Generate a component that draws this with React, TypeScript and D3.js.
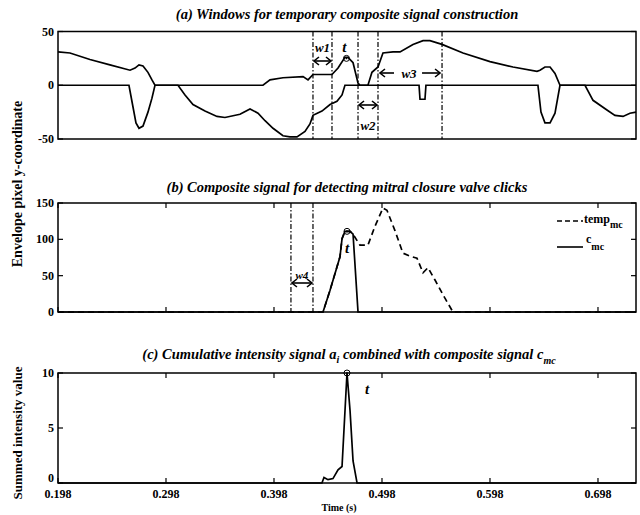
import React, { useRef, useEffect } from "react";
import * as d3 from "d3";

// time axis (s)
const xTicks = [0.198, 0.298, 0.398, 0.498, 0.598, 0.698];
const xDomain = [0.198, 0.7332];

// (a) envelope of the signal, upper and lower parts [time, pixel y]
const upperEnv: [number, number][] = [
  [0.198, 31], [0.2091, 30], [0.2276, 24], [0.2461, 19], [0.2647, 14], [0.2693, 16],
  [0.273, 19], [0.2767, 18], [0.2813, 12], [0.285, 5], [0.2878, 0], [0.3878, 0],
  [0.3943, 5], [0.4063, 7], [0.4249, 8], [0.4295, 5], [0.4341, 10], [0.4517, 10],
  [0.4573, 16], [0.4637, 26], [0.4665, 26], [0.4712, 21], [0.4758, 2], [0.4776, 0],
  [0.485, 0], [0.4887, 12], [0.4943, 17], [0.4989, 30], [0.5082, 31], [0.5147, 31],
  [0.5267, 38], [0.536, 41.5], [0.5424, 41.5], [0.5536, 38], [0.573, 30], [0.598, 22],
  [0.6193, 17], [0.6415, 13], [0.6443, 14], [0.6489, 17], [0.6536, 17], [0.6582, 11],
  [0.6628, 0], [0.7332, 0],
];
const lowerEnv: [number, number][] = [
  [0.198, 0], [0.2637, 0], [0.2674, -20], [0.2702, -35], [0.273, -40], [0.2767, -38],
  [0.2813, -25], [0.285, -12], [0.2878, 0], [0.3091, 0], [0.3156, -9], [0.323, -18],
  [0.3341, -24], [0.3452, -29], [0.3526, -30], [0.3665, -27], [0.3758, -22], [0.3832, -26],
  [0.3897, -33], [0.3971, -40], [0.4063, -47], [0.4128, -48], [0.4193, -48], [0.4267, -43],
  [0.4313, -36], [0.4341, -28], [0.4424, -24], [0.4499, -18], [0.4563, -15], [0.461, -9],
  [0.4637, 0], [0.5323, 0], [0.5332, -13], [0.5378, -13], [0.5387, 0], [0.6424, 0],
  [0.6452, -25], [0.6489, -35], [0.6536, -35], [0.6582, -26], [0.6628, 0], [0.686, 0],
  [0.6934, -14], [0.7063, -23], [0.7137, -28], [0.7212, -29], [0.7276, -26], [0.7332, -25],
];
// window boundaries w1, w2, w3
const w1 = [0.4341, 0.4517];
const w2 = [0.4758, 0.4943];
const w3 = [0.4943, 0.5536];
const w4 = [0.4137, 0.4341];

// (b) composite signals
const cmc: [number, number][] = [
  [0.198, 0], [0.4434, 0], [0.4499, 30], [0.4563, 62], [0.4591, 76], [0.461, 101],
  [0.4637, 111], [0.4684, 111], [0.4712, 107], [0.4758, 0], [0.7332, 0],
];
const tempMc: [number, number][] = [
  [0.198, 0], [0.4434, 0], [0.4499, 30], [0.4563, 62], [0.4591, 76], [0.461, 101],
  [0.4637, 111], [0.4684, 111], [0.4712, 107], [0.4776, 92], [0.485, 92], [0.4915, 118],
  [0.4989, 143], [0.5026, 140], [0.51, 112], [0.5174, 81], [0.5239, 77], [0.5304, 74],
  [0.536, 54], [0.5406, 61], [0.5471, 44], [0.5563, 19], [0.5637, 0], [0.7332, 0],
];

// (c) summed intensity
const intensity: [number, number][] = [
  [0.198, 0], [0.4424, 0], [0.4443, 0.5], [0.448, 0.3], [0.4526, 0.4], [0.4573, 1.2],
  [0.461, 1.5], [0.4656, 10], [0.4684, 6.6], [0.4712, 2], [0.4749, 0], [0.7332, 0],
];
const tPeak = { a: [0.4651, 25], b: [0.4656, 111], c: [0.4656, 10] };

const FONT = "'Liberation Serif', 'Times New Roman', serif";

const App = () => {
  const svgRef = useRef<SVGSVGElement>(null);

  useEffect(() => {
    const svg = d3.select(svgRef.current);
    svg.selectAll("*").remove();

    const x = d3.scaleLinear().domain(xDomain).range([58, 636]);
    const yA = d3.scaleLinear().domain([-50, 50]).range([139, 31.5]);
    const yB = d3.scaleLinear().domain([0, 150]).range([312, 203]);
    const yC = d3.scaleLinear().domain([0, 10]).range([483, 373]);

    const frame = (y: d3.ScaleLinear<number, number>, yTicks: number[], showX: boolean, xLabels: boolean) => {
      const g = svg.append("g");
      const [y0, y1] = y.range();
      if (showX) {
        xTicks.forEach((t) => {
          g.append("line").attr("x1", x(t)).attr("x2", x(t)).attr("y1", y0).attr("y2", y0 - 5)
            .attr("stroke", "black").attr("stroke-width", 1.2);
          g.append("line").attr("x1", x(t)).attr("x2", x(t)).attr("y1", y1).attr("y2", y1 + 5)
            .attr("stroke", "black").attr("stroke-width", 1.2);
          if (xLabels)
            g.append("text").attr("x", x(t)).attr("y", y0 + 15).attr("text-anchor", "middle")
              .attr("font-family", FONT).attr("font-weight", "bold").attr("font-size", 12).text(t.toFixed(3));
        });
      }
      yTicks.forEach((v) => {
        g.append("line").attr("x1", 58).attr("x2", 63).attr("y1", y(v)).attr("y2", y(v))
          .attr("stroke", "black").attr("stroke-width", 1.2);
        g.append("line").attr("x1", 636).attr("x2", 631).attr("y1", y(v)).attr("y2", y(v))
          .attr("stroke", "black").attr("stroke-width", 1.2);
        // the lowest label of the bottom panel sits a little higher, clear of the time labels
        const dy = xLabels && v === 0 ? -1 : 4;
        g.append("text").attr("x", 54).attr("y", y(v) + dy).attr("text-anchor", "end")
          .attr("font-family", FONT).attr("font-weight", "bold").attr("font-size", 12).text(v);
      });
      g.append("rect").attr("x", 58).attr("y", y1).attr("width", 578).attr("height", y0 - y1)
        .attr("fill", "none").attr("stroke", "black").attr("stroke-width", 1.5);
    };

    const draw = (data: [number, number][], y: d3.ScaleLinear<number, number>, dash?: string) => {
      const line = d3.line<[number, number]>().x((d) => x(d[0])).y((d) => y(d[1]));
      svg.append("path").attr("d", line(data)).attr("fill", "none").attr("stroke", "black")
        .attr("stroke-width", 1.7).attr("stroke-dasharray", dash || null);
    };

    const vline = (t: number, y: d3.ScaleLinear<number, number>) => {
      const [y0, y1] = y.range();
      svg.append("line").attr("x1", x(t)).attr("x2", x(t)).attr("y1", y1).attr("y2", y0)
        .attr("stroke", "black").attr("stroke-width", 1.2).attr("stroke-dasharray", "5,2,1.5,2");
    };

    const arrowHead = (px: number, py: number, dir: number) => {
      svg.append("path").attr("d", `M${px - dir * 5},${py - 4}L${px},${py}L${px - dir * 5},${py + 4}`)
        .attr("fill", "none").attr("stroke", "black").attr("stroke-width", 1.6);
    };
    const arrow = (xa: number, xb: number, py: number, both: boolean) => {
      svg.append("line").attr("x1", xa).attr("x2", xb).attr("y1", py).attr("y2", py)
        .attr("stroke", "black").attr("stroke-width", 1.6);
      arrowHead(xb, py, xb > xa ? 1 : -1);
      if (both) arrowHead(xa, py, xb > xa ? -1 : 1);
    };

    const label = (txt: string, px: number, py: number, size: number, anchor = "middle") =>
      svg.append("text").attr("x", px).attr("y", py).attr("text-anchor", anchor)
        .attr("font-family", FONT).attr("font-weight", "bold").attr("font-style", "italic")
        .attr("font-size", size).text(txt);

    const marker = (p: number[], y: d3.ScaleLinear<number, number>) => {
      svg.append("circle").attr("cx", x(p[0])).attr("cy", y(p[1])).attr("r", 3)
        .attr("fill", "none").attr("stroke", "black").attr("stroke-width", 1);
      svg.append("circle").attr("cx", x(p[0])).attr("cy", y(p[1])).attr("r", 0.9).attr("fill", "black");
    };

    // ---- panel a
    frame(yA, [-50, 0, 50], false, false);
    draw(upperEnv, yA);
    draw(lowerEnv, yA);
    [...w1, ...w2, w3[1]].forEach((t) => vline(t, yA));
    arrow(x(w1[0]) + 1, x(w1[1]) - 1, 61, true);
    label("w1", (x(w1[0]) + x(w1[1])) / 2, 52, 13);
    arrow(x(w2[0]) + 1, x(w2[1]) - 1, 105, true);
    label("w2", (x(w2[0]) + x(w2[1])) / 2, 130, 13);
    arrow(x(w3[0]) + 16, x(w3[0]) + 2, 73, false);
    arrow(x(w3[1]) - 20, x(w3[1]) - 2, 73, false);
    label("w3", (x(w3[0]) + x(w3[1])) / 2 - 1, 78, 13);
    marker(tPeak.a, yA);
    label("t", x(tPeak.a[0]) - 2, 52, 15);

    // ---- panel b
    frame(yB, [0, 50, 100, 150], true, false);
    w4.forEach((t) => vline(t, yB));
    draw(tempMc, yB, "6,4");
    draw(cmc, yB);
    arrow(x(w4[0]) + 1, x(w4[1]) - 1, 283, true);
    label("w4", (x(w4[0]) + x(w4[1])) / 2, 279, 11);
    marker(tPeak.b, yB);
    label("t", x(tPeak.b[0]), 253, 15);
    // legend
    svg.append("line").attr("x1", 557).attr("x2", 583).attr("y1", 221).attr("y2", 221)
      .attr("stroke", "black").attr("stroke-width", 1.6).attr("stroke-dasharray", "5,3");
    svg.append("line").attr("x1", 557).attr("x2", 583).attr("y1", 247).attr("y2", 247)
      .attr("stroke", "black").attr("stroke-width", 1.6);
    const leg1 = svg.append("text").attr("x", 584).attr("y", 223).attr("font-family", FONT)
      .attr("font-weight", "bold").attr("font-size", 12);
    leg1.append("tspan").text("temp");
    leg1.append("tspan").attr("dy", 5).attr("font-size", 10).text("mc");
    const leg2 = svg.append("text").attr("x", 586).attr("y", 243).attr("font-family", FONT)
      .attr("font-weight", "bold").attr("font-size", 12);
    leg2.append("tspan").text("c");
    leg2.append("tspan").attr("dy", 7).attr("font-size", 10).text("mc");

    // ---- panel c
    frame(yC, [0, 5, 10], true, true);
    draw(intensity, yC);
    marker(tPeak.c, yC);
    label("t", x(tPeak.c[0]) + 20, 394, 15);

    // ---- titles
    label("(a)  Windows for temporary composite signal construction", 347, 19, 14.5);
    label("(b)   Composite signal for detecting mitral closure valve clicks", 347, 192, 14.5);
    const tc = svg.append("text").attr("x", 349).attr("y", 359).attr("text-anchor", "middle")
      .attr("font-family", FONT).attr("font-weight", "bold").attr("font-style", "italic").attr("font-size", 14.5);
    tc.append("tspan").text("(c) Cumulative intensity signal a");
    tc.append("tspan").attr("dy", 4).attr("font-size", 10).text("i");
    tc.append("tspan").attr("dy", -4).text(" combined with composite signal c");
    tc.append("tspan").attr("dy", 5).attr("font-size", 10).text("mc");

    // ---- axis labels
    svg.append("text").attr("transform", "translate(22,184) rotate(-90)").attr("text-anchor", "middle")
      .attr("font-family", FONT).attr("font-weight", "bold").attr("font-size", 14)
      .text("Envelope pixel y-coordinate");
    svg.append("text").attr("transform", "translate(22,433) rotate(-90)").attr("text-anchor", "middle")
      .attr("font-family", FONT).attr("font-weight", "bold").attr("font-size", 13)
      .text("Summed intensity value");
    svg.append("text").attr("x", 339).attr("y", 511).attr("text-anchor", "middle")
      .attr("font-family", FONT).attr("font-weight", "bold").attr("font-size", 10).text("Time (s)");
  }, []);

  return (
    <svg ref={svgRef} width={640} height={515}
      style={{ position: "absolute", left: 0, top: 0, background: "white" }} />
  );
};

export default App;
